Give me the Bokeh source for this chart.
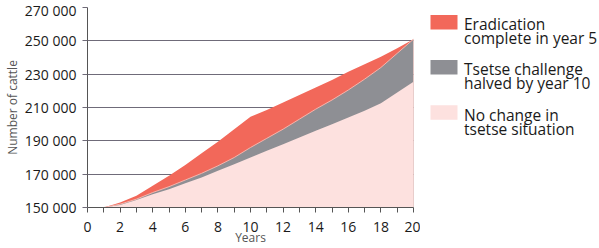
from bokeh.plotting import figure
from bokeh.models import FixedTicker, Range1d
from bokeh.layouts import row
from bokeh.embed import file_html
from bokeh.resources import INLINE
from bokeh.core.properties import value

# ---- data ----
years = list(range(0, 21))
eradication = [150000, 150000, 153000, 157000, 163000, 169000, 175500, 182500, 189500, 197000,
               204500, 208500, 213000, 217500, 222000, 226500, 231500, 236000, 240500, 245500, 251000]
halved = [150000, 150000, 152000, 155000, 159000, 162500, 166500, 170500, 175000, 180000,
          186000, 191500, 197000, 203000, 209000, 214500, 220500, 227000, 234000, 242500, 251000]
no_change = [150000, 150000, 151500, 154500, 158000, 161000, 164500, 168000, 172000, 176000,
             180000, 184000, 188000, 192000, 196000, 200000, 204000, 208000, 212500, 219000, 225500]

y_ticks = [150000, 170000, 190000, 210000, 230000, 250000, 270000]
y_tick_labels = ["150 000", "170 000", "190 000", "210 000", "230 000", "250 000", "270 000"]
x_major = [0, 2, 4, 6, 8, 10, 12, 14, 16, 18, 20]
x_minor = [1, 3, 5, 7, 9, 11, 13, 15, 17, 19]

series_labels = [["Eradication", "complete in year 5"],
                 ["Tsetse challenge", "halved by year 10"],
                 ["No change in", "tsetse situation"]]
series_colors = ["#F2685A", "#8E8F94", "#FDE1DF"]

x_title = "Years"
y_title = "Number of cattle"

FONT = "Open Sans"

# ---- main chart ----
p = figure(width=420, height=248, x_range=Range1d(0, 20), y_range=Range1d(150000, 270000),
           output_backend="svg", toolbar_location=None,
           min_border_left=87, min_border_right=7, min_border_top=7, min_border_bottom=41)
p.outline_line_color = None
p.background_fill_color = "white"
p.border_fill_color = "white"

base = y_ticks[0]
p.varea(x=years, y1=base, y2=eradication, fill_color=series_colors[0])
p.varea(x=years, y1=base, y2=halved, fill_color=series_colors[1])
p.line(x=years, y=halved, line_color="#F7B3AA", line_width=1)
p.varea(x=years, y1=base, y2=no_change, fill_color=series_colors[2])

p.xgrid.grid_line_color = None
p.ygrid.ticker = FixedTicker(ticks=y_ticks)
p.ygrid.grid_line_color = "#6F6B79"
p.ygrid.grid_line_width = 1

xa = p.xaxis[0]
xa.ticker = FixedTicker(ticks=x_major, minor_ticks=x_minor)
xa.axis_label = x_title
xa.axis_label_text_font = FONT
xa.axis_label_text_font_size = "12px"
xa.axis_label_text_font_style = "normal"
xa.axis_label_text_color = "#555555"
xa.axis_label_standoff = -6
xa.major_label_text_font = FONT
xa.major_label_text_font_size = "14px"
xa.major_label_text_color = "#1a1a1a"
xa.major_label_standoff = 9
xa.major_tick_in = 0
xa.major_tick_out = 5
xa.minor_tick_in = 0
xa.minor_tick_out = 5
xa.axis_line_color = "#555555"
xa.major_tick_line_color = "#555555"
xa.minor_tick_line_color = "#555555"

ya = p.yaxis[0]
ya.ticker = FixedTicker(ticks=y_ticks)
ya.major_label_overrides = {t: l for t, l in zip(y_ticks, y_tick_labels)}
ya.axis_label = y_title
ya.axis_label_text_font = FONT
ya.axis_label_text_font_size = "12px"
ya.axis_label_text_font_style = "normal"
ya.axis_label_text_color = "#555555"
ya.axis_label_standoff = 1
ya.major_label_text_font = FONT
ya.major_label_text_font_size = "14px"
ya.major_label_text_color = "#1a1a1a"
ya.major_label_standoff = 6
ya.major_tick_in = 0
ya.major_tick_out = 5
ya.minor_tick_in = 0
ya.minor_tick_out = 0
ya.axis_line_color = "#555555"
ya.major_tick_line_color = "#6F6B79"

# ---- legend panel ----
lg = figure(width=179, height=248, x_range=Range1d(0, 179), y_range=Range1d(248, 0),
            output_backend="svg", toolbar_location=None,
            x_axis_location=None, y_axis_location=None, min_border=0)
lg.grid.visible = False
lg.outline_line_color = None
lg.border_fill_color = "white"

first_baseline = 20.7
item_gap = 56
line_gap = 17.5
sw_top, sw_bottom, sw_left, sw_right = [], [], [], []
tx, ty, tt = [], [], []
for i, lines in enumerate(series_labels):
    b = first_baseline + item_gap * i
    sw_top.append(b - 11.5)
    sw_bottom.append(b + 6.5)
    sw_left.append(10)
    sw_right.append(37)
    for j, line in enumerate(lines):
        tx.append(43.5)
        ty.append(b + line_gap * j)
        tt.append(line)

lg.quad(left=sw_left, right=sw_right, top=sw_top, bottom=sw_bottom,
        fill_color=series_colors, line_color=None)
lg.text(x=tx, y=ty, text=tt, text_font=value(FONT), text_font_size="15.5px",
        text_baseline="alphabetic", text_align="left", text_color="#1a1a1a")

layout = row(p, lg)
open("out.html", "w").write(file_html(layout, INLINE))
